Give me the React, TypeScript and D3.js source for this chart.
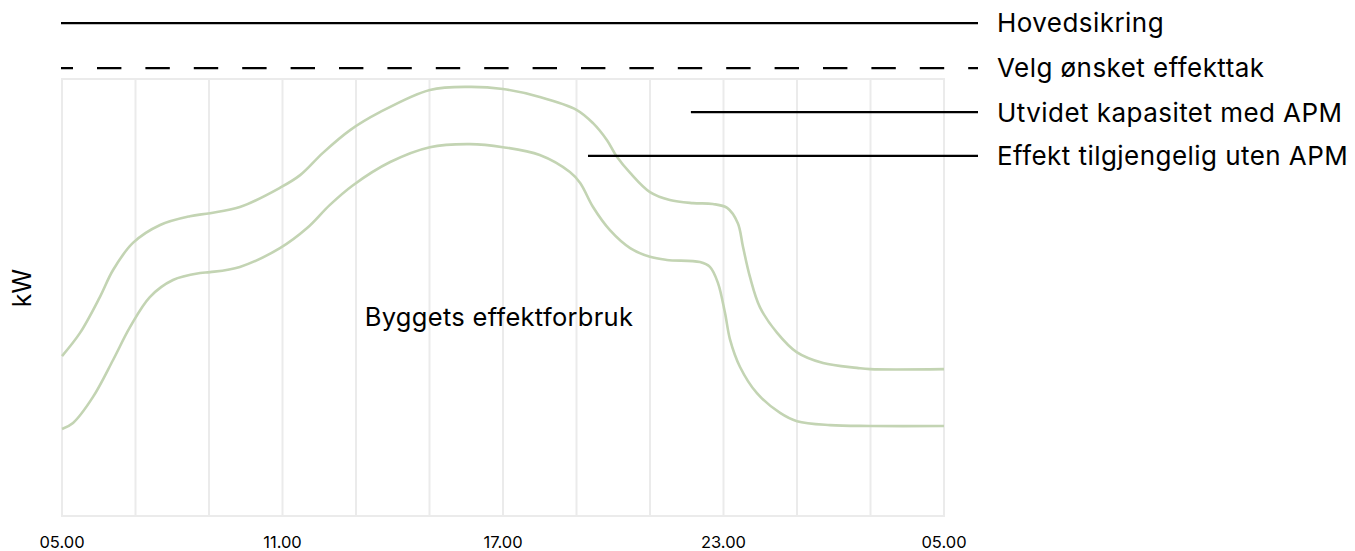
import { useEffect, useRef } from "react";
import * as d3 from "d3";

// hours after 05.00, kW (arbitrary units)
const hours = [0, 6, 12, 18, 24];
const tickLabels = ["05.00", "11.00", "17.00", "23.00", "05.00"];
const gridHours = d3.range(0, 25, 2);

const upperCurve: [number, number][] = [
  [0, 36.6], [0.49, 41.9], [1.03, 50.1], [1.39, 56.3], [1.93, 62.5], [2.67, 66.6],
  [3.48, 68.6], [4.03, 69.3], [4.84, 70.7], [5.93, 75.1], [6.48, 78.0], [7.1, 83.1],
  [7.84, 88.3], [8.65, 92.4], [10.01, 97.5], [11.1, 98.2], [12.0, 97.7], [13.0, 95.9],
  [14.01, 92.9], [14.45, 89.9], [14.83, 86.0], [15.1, 82.2], [15.46, 78.5], [16.0, 74.1],
  [16.54, 72.3], [17.17, 71.6], [17.71, 71.4], [18.1, 70.5], [18.39, 67.0], [18.53, 61.6],
  [18.72, 54.7], [18.99, 47.8], [19.46, 41.9], [19.99, 37.5], [20.71, 35.0], [21.63, 33.9],
  [21.99, 33.6], [24, 33.6],
];

const lowerCurve: [number, number][] = [
  [0, 19.9], [0.3, 21.3], [0.84, 27.2], [1.39, 35.7], [1.85, 43.2], [2.39, 50.1],
  [3.02, 54.0], [3.76, 55.6], [4.03, 55.8], [4.84, 57.0], [5.93, 61.3], [6.67, 65.9],
  [7.29, 71.2], [7.92, 75.7], [8.93, 81.0], [10.01, 84.4], [11.1, 85.1], [12.0, 84.4],
  [13.0, 82.6], [13.82, 78.7], [14.1, 76.2], [14.45, 70.7], [14.91, 65.4], [15.46, 61.3],
  [16.0, 59.3], [16.46, 58.6], [17.36, 58.1], [17.63, 57.0], [17.85, 53.3], [18.04, 46.5],
  [18.18, 40.3], [18.45, 34.1], [18.91, 28.1], [19.54, 23.6], [20.0, 21.7], [20.9, 20.8],
  [21.99, 20.6], [24, 20.6],
];

const refLabels = ["Hovedsikring", "Velg ønsket effekttak", "Utvidet kapasitet med APM", "Effekt tilgjengelig uten APM"];
const refValues = [112.8, 102.5, 92.4, 82.4];
const refStarts = [0, 0, 17.14, 14.34];
const refDashed = [false, true, false, false];

const App = () => {
  const svgRef = useRef<SVGSVGElement>(null);

  useEffect(() => {
    const width = 1355, height = 551;
    const margin = { top: 79, right: 411, bottom: 35, left: 62 };

    const svg = d3.select(svgRef.current);
    svg.selectAll("*").remove();
    svg.attr("width", width).attr("height", height).style("font-family", "Inter, sans-serif");

    const x = d3.scaleLinear().domain([0, 24]).range([margin.left, width - margin.right]);
    const y = d3.scaleLinear().domain([0, 100]).range([height - margin.bottom, margin.top]);

    const grid = svg.append("g").attr("stroke", "#ebebeb").attr("stroke-width", 2);
    grid.selectAll("line.v")
      .data(gridHours)
      .enter()
      .append("line")
      .attr("x1", d => x(d)).attr("x2", d => x(d))
      .attr("y1", y(100)).attr("y2", y(0));
    grid.append("line").attr("x1", x(0) - 1).attr("x2", x(24) + 1).attr("y1", y(100)).attr("y2", y(100));
    grid.append("line").attr("x1", x(0) - 1).attr("x2", x(24) + 1).attr("y1", y(0)).attr("y2", y(0));

    const line = d3.line<[number, number]>()
      .x(d => x(d[0]))
      .y(d => y(d[1]))
      .curve(d3.curveCatmullRom.alpha(0.5));

    [upperCurve, lowerCurve].forEach(c => {
      svg.append("path")
        .datum(c)
        .attr("fill", "none")
        .attr("stroke", "#c3d4b3")
        .attr("stroke-width", 2.6)
        .attr("d", line);
    });

    const legendEnd = x(24) + 34;
    refValues.forEach((v, i) => {
      svg.append("line")
        .attr("x1", x(refStarts[i]) - 1).attr("x2", legendEnd)
        .attr("y1", y(v)).attr("y2", y(v))
        .attr("stroke", "#000")
        .attr("stroke-width", 2.2)
        .attr("stroke-dasharray", refDashed[i] ? "24.4 24" : null)
        .attr("stroke-dashoffset", refDashed[i] ? 12.4 : null);
      svg.append("text")
        .attr("x", legendEnd + 19)
        .attr("y", y(v))
        .attr("dy", "0.36em")
        .attr("font-size", 26)
        .attr("letter-spacing", 0.45)
        .attr("fill", "#000")
        .text(refLabels[i]);
    });

    svg.append("g")
      .selectAll("text")
      .data(hours)
      .enter()
      .append("text")
      .attr("x", d => x(d))
      .attr("y", height - 3)
      .attr("text-anchor", "middle")
      .attr("font-size", 16.5)
      .attr("fill", "#000")
      .text((d, i) => tickLabels[i]);

    svg.append("text")
      .attr("transform", "translate(31, 288) rotate(-90)")
      .attr("text-anchor", "middle")
      .attr("font-size", 25)
      .attr("fill", "#000")
      .text("kW");

    svg.append("text")
      .attr("x", x(12) - 4)
      .attr("y", y(43.5))
      .attr("text-anchor", "middle")
      .attr("font-size", 25.5)
      .attr("letter-spacing", 0.3)
      .attr("fill", "#000")
      .text("Byggets effektforbruk");
  }, []);

  return (
    <div style={{ position: "absolute", left: 0, top: 0 }}>
      <svg ref={svgRef} />
    </div>
  );
};

export default App;
